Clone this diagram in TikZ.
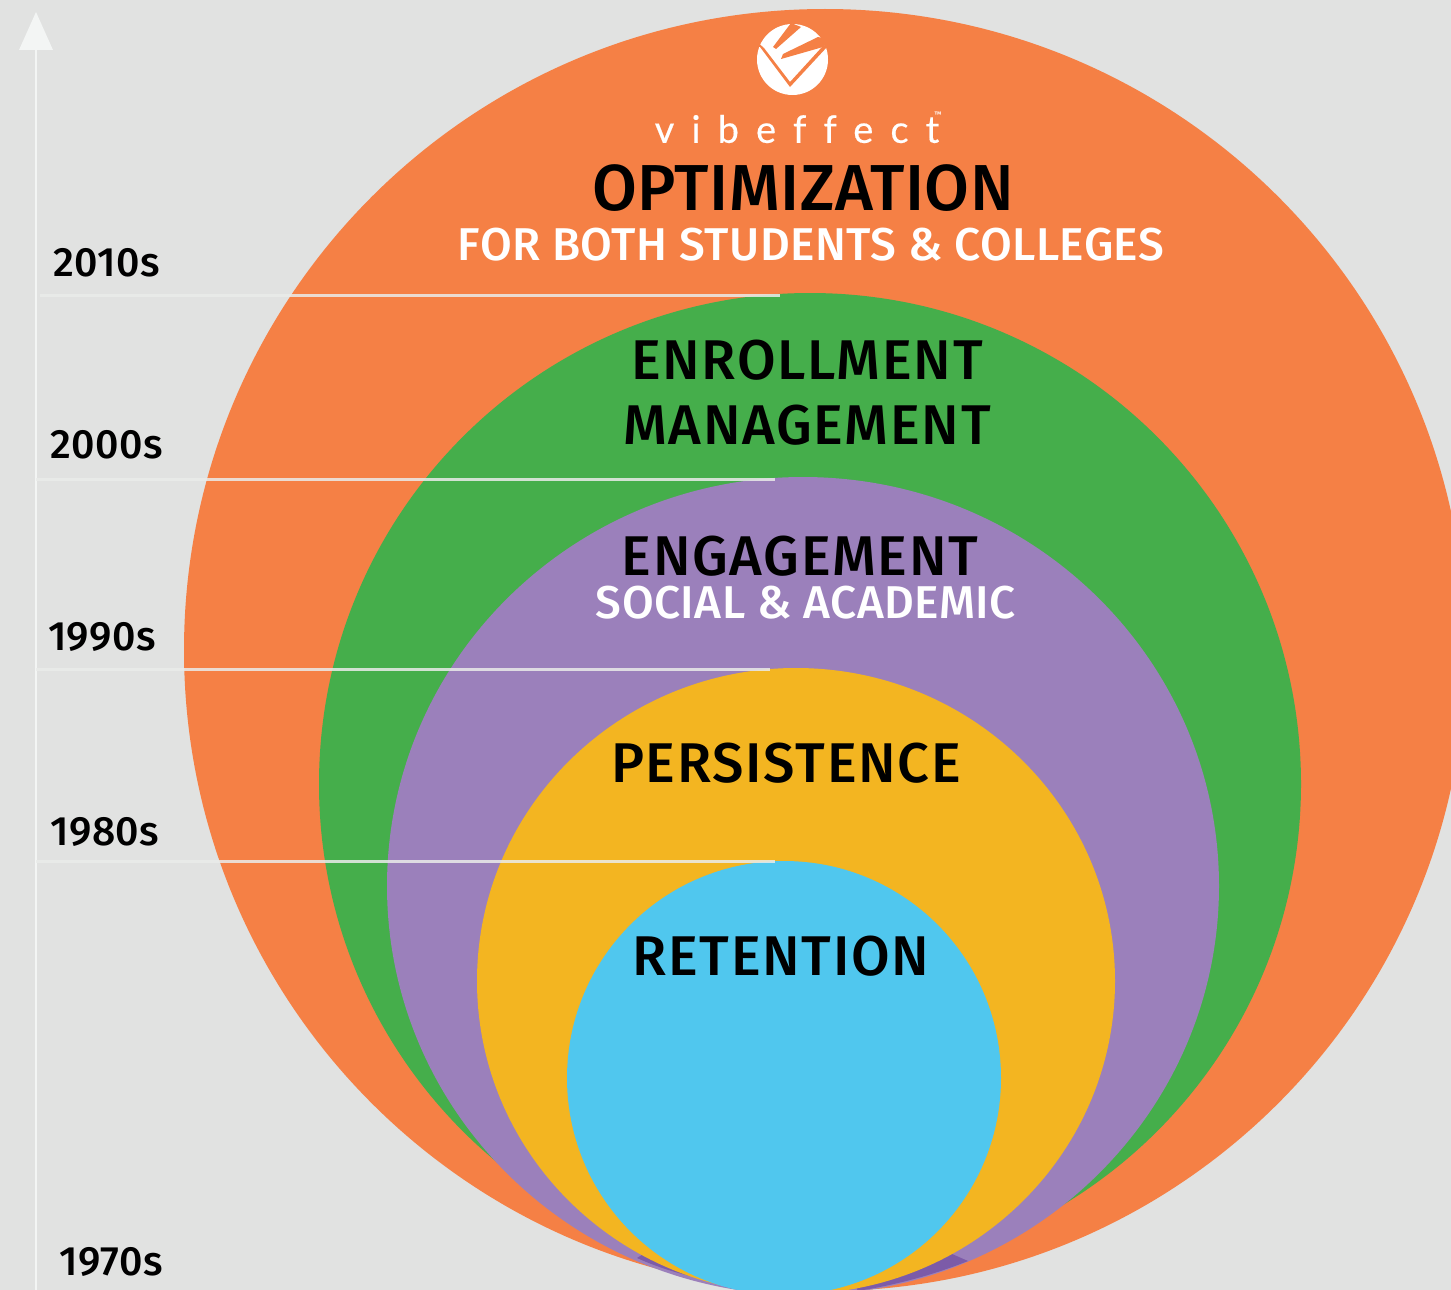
\documentclass[tikz,border=0pt]{standalone}
\usepackage{fontspec}
\usepackage{xcolor}
\setmainfont{Fira Sans}[UprightFont=* Medium]
\newfontfamily\logofont[LetterSpace=45,Ligatures=NoCommon,FakeBold=0.4]{Lato}
\definecolor{vbgray}{HTML}{E1E2E1}
\definecolor{vborange}{HTML}{F58045}
\definecolor{vbgreen}{HTML}{45AE4B}
\definecolor{vbpurple}{HTML}{9B80BB}
\definecolor{vbdark}{HTML}{7C5BA8}
\definecolor{vbyellow}{HTML}{F3B521}
\definecolor{vbblue}{HTML}{50C7EE}
\definecolor{vbline}{HTML}{EAECEA}
\definecolor{vbtip}{HTML}{F3F5F4}
\tikzset{
  bigword/.style={text=black,font=\fontsize{56}{56}\selectfont\addfontfeature{LetterSpace=3}},
  topword/.style={text=black,font=\fontsize{65}{65}\selectfont\addfontfeature{LetterSpace=0.7}},
  subword/.style={text=white,font=\fontsize{46}{46}\selectfont\addfontfeature{LetterSpace=1}},
  yearword/.style={text=black,font=\fontsize{41}{41}\selectfont\addfontfeature{LetterSpace=1}},
  tickline/.style={draw=vbline,line width=3,opacity=0.85}
}

\begin{document}
\begin{tikzpicture}[x=1pt,y=-1pt]
	\useasboundingbox (0,0) rectangle (1451,1290);
	\clip (0,0) rectangle (1451,1290);
	\fill[vbgray] (0,0) rectangle (1451,1290);

	\fill[vborange] (825,650) circle [radius=641];
	\fill[vbgreen] (810,784) circle [radius=491];
	\fill[vbpurple] (803,886) ellipse [x radius=416,y radius=409];
	\fill[vbdark] (637,1258) .. controls (655,1266) and (670,1271) .. (690,1276) -- (690,1265) -- (650,1250) -- cycle;
	\fill[vbdark] (968,1261) .. controls (930,1276) and (895,1285) .. (857,1291) -- (860,1270) -- (943,1250) -- cycle;
	\fill[vbyellow] (796,981) ellipse [x radius=319,y radius=313];
	\fill[vbblue] (784,1078) circle [radius=217];

	\coordinate (axisS) at (36,1290);
	\coordinate (axisE) at (36,50);
	\coordinate (tipL) at (19,50);
	\coordinate (tipR) at (53,50);
	\coordinate (tipT) at (36,12);
	\draw[vbtip,line width=2] (axisS) -- (axisE);
	\fill[vbtip] (tipL) -- (tipT) -- (tipR) -- cycle;

	\coordinate (a2010) at (40,295);
	\coordinate (b2010) at (780,295);
	\coordinate (a2000) at (36,479);
	\coordinate (b2000) at (775,479);
	\coordinate (a1990) at (36,669);
	\coordinate (b1990) at (770,669);
	\coordinate (a1980) at (36,861);
	\coordinate (b1980) at (775,861);
	\draw[tickline] (a2010) -- (b2010);
	\draw[tickline] (a2000) -- (b2000);
	\draw[tickline] (a1990) -- (b1990);
	\draw[tickline] (a1980) -- (b1980);

	\fill[white] (792.5,59.5) circle [radius=35.5];
	\fill[vborange] (791,23) -- (801,27) -- (776,49) -- (773,47) -- cycle;
	\fill[vborange] (818,37) -- (830,40) -- (823,47) -- (781,59) -- (783,54) -- cycle;
	\fill[vborange] (755,47) -- (760,47) -- (790,87) -- (827,47) -- (832,47) -- (832,40) -- (822,47) -- (790,82) -- (764,48) -- (755,40) -- cycle;

	\node (vlogo) at (797,129) [text=white,font=\logofont\fontsize{38}{38}\selectfont] {vibeffect};
	\node (vmark) at (938,115) [text=white,inner sep=0,font=\fontsize{8}{8}\selectfont] {™};
	\node (optim) at (803,188) [topword] {OPTIMIZATION};
	\node (forboth) at (811,245) [subword] {FOR BOTH STUDENTS \& COLLEGES};
	\node (enroll) at (807,360) [bigword] {ENROLLMENT};
	\node (manage) at (807,425) [bigword] {MANAGEMENT};
	\node (engage) at (800,556) [bigword] {ENGAGEMENT};
	\node (social) at (806,603) [subword] {SOCIAL \& ACADEMIC};
	\node (persist) at (786,763) [bigword] {PERSISTENCE};
	\node (retent) at (781,956) [bigword] {RETENTION};

	\node (y2010) at (107,263) [yearword] {2010s};
	\node (y2000) at (107,445) [yearword] {2000s};
	\node (y1990) at (102,637) [yearword] {1990s};
	\node (y1980) at (105,832) [yearword] {1980s};
	\node (y1970) at (111,1262) [yearword] {1970s};
\end{tikzpicture}
\end{document}
